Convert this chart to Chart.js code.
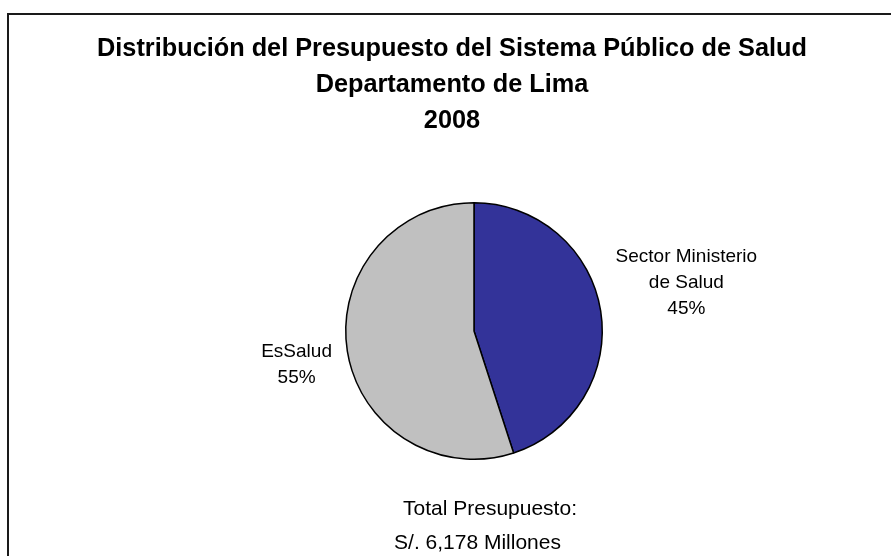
<!DOCTYPE html>
<html>
<head>
<meta charset="utf-8">
<script src="https://cdn.jsdelivr.net/npm/chart.js@4/dist/chart.umd.min.js"></script>
<style>
	html, body { margin: 0; padding: 0; background: #fff; overflow: hidden; }
	#wrap { position: relative; width: 891px; height: 556px; }
	#frame {
		position: absolute; left: 7px; top: 13px; width: 900px; height: 600px;
		border: 2px solid #1a1a1a; box-sizing: border-box; pointer-events: none;
	}
	canvas { position: absolute; left: 0; top: 0; }
</style>
</head>
<body>
<div id="wrap">
	<canvas id="pieChart" width="891" height="556"></canvas>
	<div id="frame"></div>
</div>
<script>
// data
const categories = ["Sector Ministerio de Salud", "EsSalud"];
const labelLines = [["Sector Ministerio", "de Salud"], ["EsSalud"]];
const shares = [45, 55];
const titleLines = [
	"Distribución del Presupuesto del Sistema Público de Salud",
	"Departamento de Lima",
	"2008",
];
const totalLines = ["Total Presupuesto:", "S/. 6,178 Millones"];

const FONT = "'Liberation Sans', Arial, sans-serif";

// texts drawn on top of the pie
const textPlugin = {
	id: "pieTexts",
	afterDraw(chart) {
		const ctx = chart.ctx;
		ctx.save();
		ctx.fillStyle = "#000";
		ctx.textAlign = "center";
		ctx.textBaseline = "middle";

		// title
		ctx.font = "bold 25.3px " + FONT;
		titleLines.forEach((t, i) => ctx.fillText(t, 452, 49 + i * 36));

		// slice labels, placed just outside each slice
		ctx.font = "19px " + FONT;
		const total = shares.reduce((a, b) => a + b, 0);
		const nudge = [-15, 6];
		chart.getDatasetMeta(0).data.forEach((arc, i) => {
			const p = arc.getProps(["x", "y", "startAngle", "endAngle", "outerRadius"], true);
			const mid = (p.startAngle + p.endAngle) / 2;
			const lines = labelLines[i].concat([Math.round((shares[i] / total) * 100) + "%"]);
			const halfW = Math.max(...lines.map((l) => ctx.measureText(l).width)) / 2;
			const d = p.outerRadius + 16 + halfW;
			const cx = p.x + Math.cos(mid) * d;
			const cy = p.y + Math.sin(mid) * d + nudge[i];
			const lh = 26;
			const y0 = cy - ((lines.length - 1) * lh) / 2;
			lines.forEach((l, j) => ctx.fillText(l, cx, y0 + j * lh));
		});

		// total under the pie
		ctx.font = "21px " + FONT;
		ctx.fillText(totalLines[0], 490, 509);
		ctx.fillText(totalLines[1], 477.5, 543);
		ctx.restore();
	},
};

const ctx = document.getElementById("pieChart").getContext("2d");
new Chart(ctx, {
	type: "pie",
	data: {
		labels: categories,
		datasets: [
			{
				data: shares,
				backgroundColor: ["#333399", "#C0C0C0"],
				borderColor: "#000",
				borderWidth: 1.5,
			},
		],
	},
	options: {
		responsive: false,
		animation: false,
		layout: { padding: { top: 202, bottom: 96, left: 345, right: 288 } },
		plugins: {
			legend: { display: false },
			tooltip: { enabled: false },
			title: { display: false },
		},
	},
	plugins: [textPlugin],
});
</script>
</body>
</html>
